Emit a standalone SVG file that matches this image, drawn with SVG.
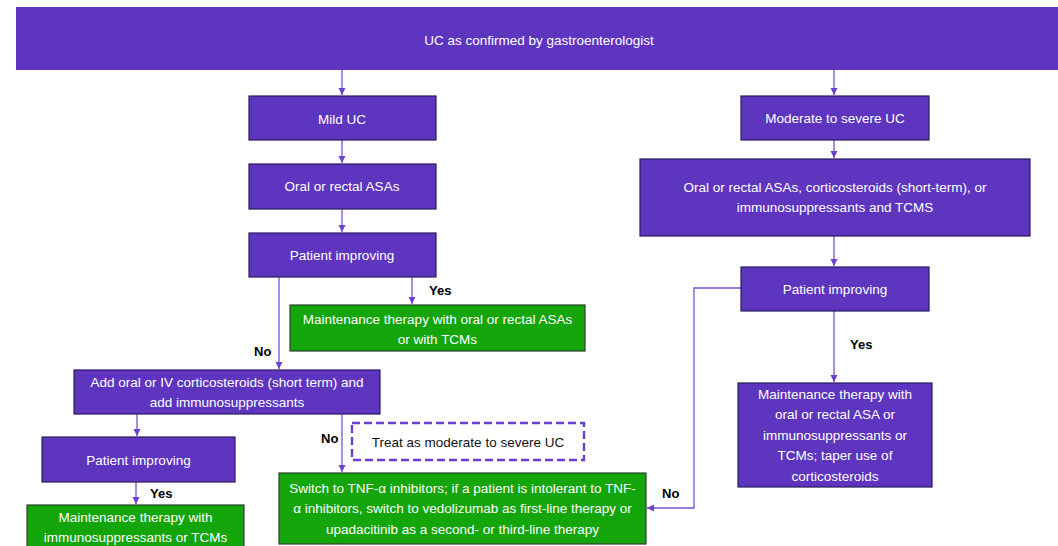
<svg xmlns="http://www.w3.org/2000/svg" width="1058" height="546" viewBox="0 0 1058 546">
<style>
.p{fill:#5d35bf;stroke:#2b1b5e;stroke-width:1.2}
.g{fill:#14a50b;stroke:#2f3f2a;stroke-width:1.2}
.d{fill:#ffffff;stroke:#6a3fd0;stroke-width:2.4;stroke-dasharray:8 4}
text{font-family:"Liberation Sans",Arial,sans-serif;font-size:13.5px;text-anchor:middle}
.w{fill:#ffffff}
.k{fill:#111111}
.l{fill:#000000;font-weight:bold;font-size:13px;text-anchor:start}
.c{fill:none;stroke:#7a52d4;stroke-width:1.3}
</style>
<defs>
<marker id="ah" markerWidth="8" markerHeight="8" refX="7" refY="4" orient="auto" markerUnits="userSpaceOnUse">
<path d="M0,0.5 L7,4 L0,7.5 Z" fill="#6a42d0"/>
</marker>
</defs>
<g id="connectors">
<path class="c" d="M342,70 V95" marker-end="url(#ah)"/>
<path class="c" d="M834,70 V95" marker-end="url(#ah)"/>
<path class="c" d="M342,140 V163" marker-end="url(#ah)"/>
<path class="c" d="M342,209 V232" marker-end="url(#ah)"/>
<path class="c" d="M834,140 V158" marker-end="url(#ah)"/>
<path class="c" d="M834,236 V266" marker-end="url(#ah)"/>
<path class="c" d="M834,311 V382" marker-end="url(#ah)"/>
<path class="c" d="M741,288 H694 V508 H647" marker-end="url(#ah)"/>
<path class="c" d="M412,277 V304" marker-end="url(#ah)"/>
<path class="c" d="M279,277 V369" marker-end="url(#ah)"/>
<path class="c" d="M137,414 V436" marker-end="url(#ah)"/>
<path class="c" d="M136,482 V504" marker-end="url(#ah)"/>
<path class="c" d="M342,414 V472" marker-end="url(#ah)"/>
<text class="l" x="429" y="295">Yes</text>
<text class="l" x="254" y="356">No</text>
<text class="l" x="150" y="498">Yes</text>
<text class="l" x="321" y="443">No</text>
<text class="l" x="850" y="349">Yes</text>
<text class="l" x="662" y="498">No</text>
</g>
<g id="n-banner">
<rect x="16" y="7" width="1042" height="63" fill="#5d35bf"/>
<text class="w" x="539" y="45">UC as confirmed by gastroenterologist</text>
</g>
<g id="n-mild">
<rect class="p" x="249" y="96" width="187" height="44"/>
<text class="w" x="342" y="123.5">Mild UC</text>
</g>
<g id="n-oral">
<rect class="p" x="249" y="164" width="187" height="45"/>
<text class="w" x="342" y="191">Oral or rectal ASAs</text>
</g>
<g id="n-pi1">
<rect class="p" x="249" y="233" width="187" height="44"/>
<text class="w" x="342" y="259.5">Patient improving</text>
</g>
<g id="n-mod">
<rect class="p" x="741" y="96" width="188" height="44"/>
<text class="w" x="835" y="123">Moderate to severe UC</text>
</g>
<g id="n-oralmulti">
<rect class="p" x="640" y="159" width="390" height="77"/>
<text class="w" x="835" y="191.5">Oral or rectal ASAs, corticosteroids (short-term), or</text>
<text class="w" x="835" y="212">immunosuppressants and TCMS</text>
</g>
<g id="n-pi2">
<rect class="p" x="741" y="267" width="188" height="44"/>
<text class="w" x="835" y="294">Patient improving</text>
</g>
<g id="n-maint2">
<rect class="p" x="738" y="383" width="194" height="104"/>
<text class="w" x="835" y="398.5">Maintenance therapy with</text>
<text class="w" x="835" y="419">oral or rectal ASA or</text>
<text class="w" x="835" y="439.5">immunosuppressants or</text>
<text class="w" x="835" y="460">TCMs; taper use of</text>
<text class="w" x="835" y="481">corticosteroids</text>
</g>
<g id="n-maint1">
<rect class="g" x="290" y="305" width="295" height="46"/>
<text class="w" x="437.5" y="323.5">Maintenance therapy with oral or rectal ASAs</text>
<text class="w" x="437.5" y="343.5">or with TCMs</text>
</g>
<g id="n-add">
<rect class="p" x="74" y="370" width="306" height="44"/>
<text class="w" x="227" y="386.5">Add oral or IV corticosteroids (short term) and</text>
<text class="w" x="227" y="407">add immunosuppressants</text>
</g>
<g id="n-pi3">
<rect class="p" x="42" y="437" width="193" height="45"/>
<text class="w" x="138.5" y="464.5">Patient improving</text>
</g>
<g id="n-maint3">
<rect class="g" x="27" y="505" width="217" height="46"/>
<text class="w" x="135.5" y="521.5">Maintenance therapy with</text>
<text class="w" x="135.5" y="541.5">immunosuppressants or TCMs</text>
</g>
<g id="n-treat">
<rect class="d" x="352" y="423" width="232" height="37"/>
<text class="k" x="468" y="447">Treat as moderate to severe UC</text>
</g>
<g id="n-switch">
<rect class="g" x="279" y="473" width="367" height="71"/>
<text class="w" x="462.5" y="492.5">Switch to TNF-α inhibitors; if a patient is intolerant to TNF-</text>
<text class="w" x="462.5" y="513">α inhibitors, switch to vedolizumab as first-line therapy or</text>
<text class="w" x="462.5" y="533.5">upadacitinib as a second- or third-line therapy</text>
</g>
</svg>
